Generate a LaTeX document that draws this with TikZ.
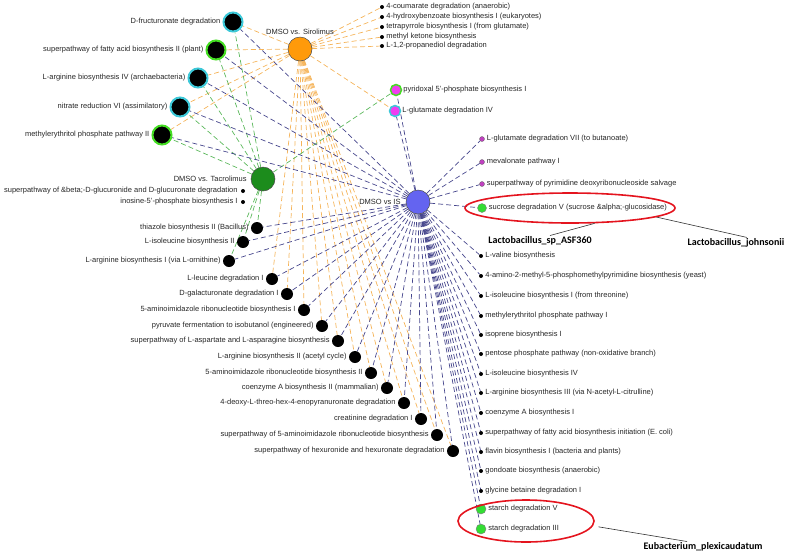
\documentclass[tikz,border=0pt]{standalone}
\usepackage{fontspec}
\setmainfont{Liberation Sans}
\newfontfamily\calloutfont{Carlito}
\usetikzlibrary{shapes.geometric}
\pgfdeclarelayer{edges}
\pgfsetlayers{edges,main}
\definecolor{sirfill}{HTML}{FF9A0A}
\definecolor{tacfill}{HTML}{1C8C1C}
\definecolor{isfill}{HTML}{6464F0}
\definecolor{sircol}{HTML}{F5B45A}
\definecolor{taccol}{HTML}{5CB85C}
\definecolor{iscol}{HTML}{46468C}
\definecolor{cyanring}{HTML}{3CC8D8}
\definecolor{greenring}{HTML}{44DD22}
\definecolor{magfill}{HTML}{F03CF0}
\definecolor{magdot}{HTML}{C040C0}
\definecolor{hitgreen}{HTML}{33DD33}
\definecolor{hitred}{HTML}{E4141E}
\tikzset{
  hub/.style={circle,draw=black!70,line width=0.5pt,minimum size=24pt,inner sep=0pt},
  ringed/.style={circle,fill=black,line width=2pt,minimum size=19pt,inner sep=0pt},
  pathnode/.style={circle,fill=black,minimum size=12pt,inner sep=0pt},
  tinydot/.style={circle,fill=black,minimum size=4pt,inner sep=0pt},
  magnode/.style={circle,fill=magfill,line width=1.5pt,minimum size=11pt,inner sep=0pt},
  magsmall/.style={circle,fill=magdot,draw=black!60,line width=0.3pt,minimum size=5pt,inner sep=0pt},
  hitnode/.style={circle,fill=hitgreen,draw=black!50,line width=0.4pt,minimum size=9pt,inner sep=0pt},
  lab/.style={font=\fontsize{7.5}{8.5}\selectfont,inner sep=1pt,text=black!85},
  callout/.style={font=\calloutfont\bfseries\fontsize{10}{12}\selectfont,inner sep=1pt},
  hitring/.style={ellipse,draw=hitred,line width=1.6pt,inner sep=0pt},
  edge/.style={dash pattern=on 5pt off 3pt,line width=0.7pt},
  siredge/.style={edge,draw=sircol},
  tacedge/.style={edge,draw=taccol},
  isedge/.style={edge,draw=iscol}
}

\begin{document}
\begin{tikzpicture}[x=1pt,y=-1pt,label distance=1pt]
  \useasboundingbox (0,0) rectangle (787,558);

  % comparison hubs
  \node[hub,fill=sirfill,label={[lab]above:{DMSO vs. Sirolimus}}] (sir) at (300,49) {};
  \node[hub,fill=tacfill,label={[lab,label distance=3pt]left:{DMSO vs. Tacrolimus}}] (tac) at (263,179) {};
  \node[hub,fill=isfill,label={[lab,label distance=4pt]left:{DMSO vs IS}}] (is) at (418,202) {};

  % shared pathways, left
  \node[ringed,draw=cyanring,label={[lab]left:{D-fructuronate degradation}}] (fruc) at (233,22) {};
  \node[ringed,draw=greenring,label={[lab]left:{superpathway of fatty acid biosynthesis II (plant)}}] (fatty2) at (216,50) {};
  \node[ringed,draw=cyanring,label={[lab]left:{L-arginine biosynthesis IV (archaebacteria)}}] (arg4) at (198,78) {};
  \node[ringed,draw=cyanring,label={[lab]left:{nitrate reduction VI (assimilatory)}}] (nitrate) at (180,107) {};
  \node[ringed,draw=greenring,label={[lab]left:{methylerythritol phosphate pathway II}}] (mep2) at (162,135) {};

  % Tacrolimus only
  \node[tinydot,label={[lab,label distance=2pt]left:{superpathway of \&beta;-D-glucuronide and D-glucuronate degradation}}] (glucur) at (243,191) {};
  \node[tinydot,label={[lab,label distance=2pt]left:{inosine-5'-phosphate biosynthesis I}}] (inosine) at (243,202) {};

  \node[pathnode,label={[lab]left:{thiazole biosynthesis II (Bacillus)}}] (thiazole) at (257,228) {};
  \node[pathnode,label={[lab]left:{L-isoleucine biosynthesis II}}] (ile2) at (243,242) {};
  \node[pathnode,label={[lab]left:{L-arginine biosynthesis I (via L-ornithine)}}] (arg1) at (229,261) {};

  % Sirolimus and IS
  \node[pathnode,label={[lab]left:{L-leucine degradation I}}] (leu) at (272,279) {};
  \node[pathnode,label={[lab]left:{D-galacturonate degradation I}}] (galact) at (287,294) {};
  \node[pathnode,label={[lab]left:{5-aminoimidazole ribonucleotide biosynthesis I}}] (air1) at (304,310) {};
  \node[pathnode,label={[lab]left:{pyruvate fermentation to isobutanol (engineered)}}] (pyruv) at (322,326) {};
  \node[pathnode,label={[lab]left:{superpathway of L-aspartate and L-asparagine biosynthesis}}] (asp) at (338,341) {};
  \node[pathnode,label={[lab]left:{L-arginine biosynthesis II (acetyl cycle)}}] (arg2) at (355,357) {};
  \node[pathnode,label={[lab]left:{5-aminoimidazole ribonucleotide biosynthesis II}}] (air2) at (371,373) {};
  \node[pathnode,label={[lab]left:{coenzyme A biosynthesis II (mammalian)}}] (coa2) at (387,388) {};
  \node[pathnode,label={[lab]left:{4-deoxy-L-threo-hex-4-enopyranuronate degradation}}] (deoxy) at (404,403) {};
  \node[pathnode,label={[lab]left:{creatinine degradation I}}] (creat) at (421,419) {};
  \node[pathnode,label={[lab]left:{superpathway of 5-aminoimidazole ribonucleotide biosynthesis}}] (superair) at (437,435) {};
  \node[pathnode,label={[lab]left:{superpathway of hexuronide and hexuronate degradation}}] (hexur) at (453,451) {};

  % Sirolimus only
  \node[tinydot,label={[lab]right:{4-coumarate degradation (anaerobic)}}] (coum) at (382,7) {};
  \node[tinydot,label={[lab]right:{4-hydroxybenzoate biosynthesis I (eukaryotes)}}] (hbz) at (382,17) {};
  \node[tinydot,label={[lab]right:{tetrapyrrole biosynthesis I (from glutamate)}}] (tetra) at (382,27) {};
  \node[tinydot,label={[lab]right:{methyl ketone biosynthesis}}] (mketone) at (382,37) {};
  \node[tinydot,label={[lab]right:{L-1,2-propanediol degradation}}] (propdiol) at (382,46) {};

  \node[magnode,draw=greenring,label={[lab,label distance=0pt]right:{pyridoxal 5'-phosphate biosynthesis I}}] (pyridox) at (396,90) {};
  \node[magnode,draw=cyanring,label={[lab,label distance=0pt]right:{L-glutamate degradation IV}}] (glut4) at (395,111) {};

  % IS only
  \node[magsmall,label={[lab]right:{L-glutamate degradation VII (to butanoate)}}] (glut7) at (482,139) {};
  \node[magsmall,label={[lab]right:{mevalonate pathway I}}] (meval) at (482,162) {};
  \node[magsmall,label={[lab]right:{superpathway of pyrimidine deoxyribonucleoside salvage}}] (pyrim) at (482,184) {};
  \node[hitnode,label={[lab]right:{sucrose degradation V (sucrose \&alpha;-glucosidase)}}] (sucrose) at (482,208) {};

  \node[tinydot,label={[lab]right:{L-valine biosynthesis}}] (valine) at (481,256) {};
  \node[tinydot,label={[lab]right:{4-amino-2-methyl-5-phosphomethylpyrimidine biosynthesis (yeast)}}] (ampp) at (481,276) {};
  \node[tinydot,label={[lab]right:{L-isoleucine biosynthesis I (from threonine)}}] (ile1) at (481,296) {};
  \node[tinydot,label={[lab]right:{methylerythritol phosphate pathway I}}] (mep1) at (481,316) {};
  \node[tinydot,label={[lab]right:{isoprene biosynthesis I}}] (isopr) at (481,335) {};
  \node[tinydot,label={[lab]right:{pentose phosphate pathway (non-oxidative branch)}}] (pentose) at (481,354) {};
  \node[tinydot,label={[lab]right:{L-isoleucine biosynthesis IV}}] (ile4) at (481,374) {};
  \node[tinydot,label={[lab]right:{L-arginine biosynthesis III (via N-acetyl-L-citrulline)}}] (arg3) at (481,393) {};
  \node[tinydot,label={[lab]right:{coenzyme A biosynthesis I}}] (coa1) at (481,413) {};
  \node[tinydot,label={[lab]right:{superpathway of fatty acid biosynthesis initiation (E. coli)}}] (fasinit) at (481,433) {};
  \node[tinydot,label={[lab]right:{flavin biosynthesis I (bacteria and plants)}}] (flavin) at (481,452) {};
  \node[tinydot,label={[lab]right:{gondoate biosynthesis (anaerobic)}}] (gondo) at (481,471) {};
  \node[tinydot,label={[lab]right:{glycine betaine degradation I}}] (glybet) at (481,491) {};
  \node[hitnode,minimum size=10pt,label={[lab]right:{starch degradation V}}] (starch5) at (481,509) {};
  \node[hitnode,minimum size=10pt,label={[lab]right:{starch degradation III}}] (starch3) at (481,529) {};

  % taxa callouts
  \node[hitring,minimum width=210pt,minimum height=30pt] (ring1) at (570,208) {};
  \node[hitring,minimum width=136pt,minimum height=42pt] (ring2) at (526,521) {};
  \node[callout] (asf) at (540,241) {Lactobacillus\_sp\_ASF360};
  \node[callout] (john) at (736,243) {Lactobacillus\_johnsonii};
  \node[callout] (eub) at (703,547) {Eubacterium\_plexicaudatum};
  \draw[black!80,line width=0.6pt] (ring1.-32) -- ([xshift=10pt]asf.north);
  \draw[black!80,line width=0.6pt] (ring1.-6) -- ([xshift=11pt]john.north);
  \draw[black!80,line width=0.6pt] ([xshift=6pt]ring2.-5) -- ([xshift=-16pt]eub.north);

  \begin{pgfonlayer}{edges}
    \foreach \p in {fruc,fatty2,arg4,nitrate,mep2,coum,hbz,tetra,mketone,propdiol,glut4,
                    leu,galact,air1,pyruv,asp,arg2,air2,coa2,deoxy,creat,superair,hexur}
      \draw[siredge] (sir) -- (\p);
    \foreach \p in {fruc,fatty2,arg4,nitrate,mep2,thiazole,ile2,arg1,pyridox}
      \draw[tacedge] (tac) -- (\p);
    \foreach \p in {fruc,fatty2,arg4,nitrate,mep2,thiazole,ile2,arg1,
                    leu,galact,air1,pyruv,asp,arg2,air2,coa2,deoxy,creat,superair,hexur,
                    pyridox,glut4,glut7,meval,pyrim,sucrose,
                    valine,ampp,ile1,mep1,isopr,pentose,ile4,arg3,coa1,fasinit,flavin,gondo,glybet,
                    starch5,starch3}
      \draw[isedge] (is) -- (\p);
  \end{pgfonlayer}
\end{tikzpicture}
\end{document}
